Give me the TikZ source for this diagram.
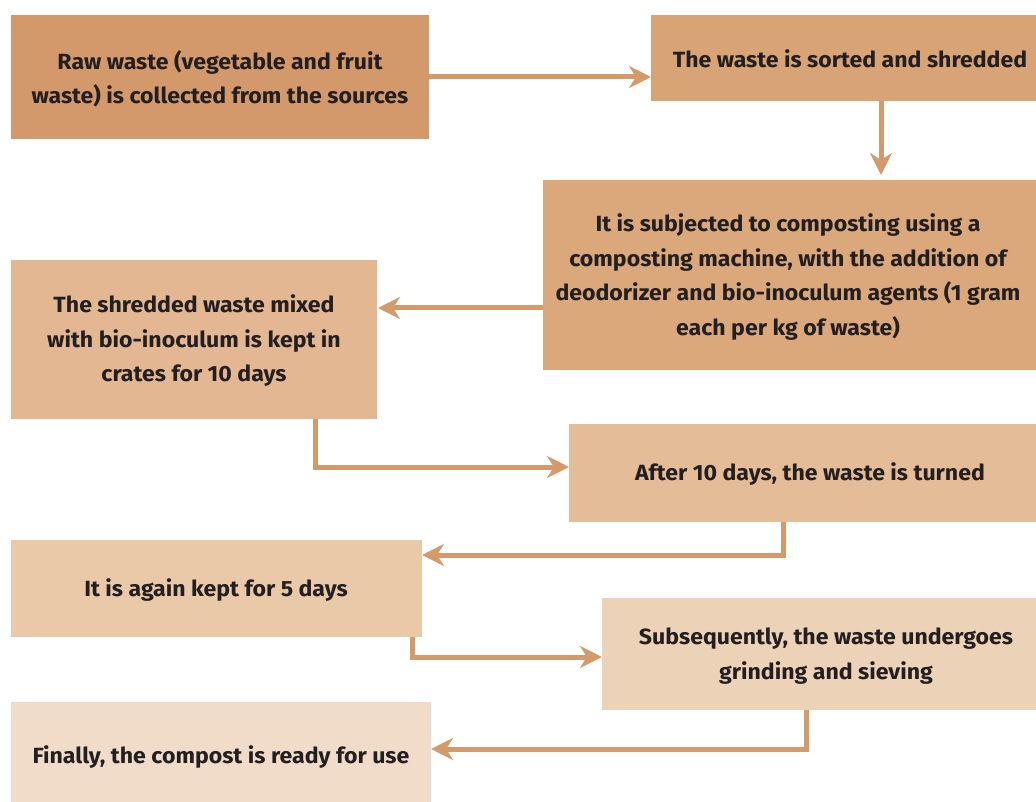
\documentclass[tikz,border=0pt]{standalone}
\usepackage{fontspec}
\setmainfont{Fira Sans}[FakeStretch=1.05]
\usetikzlibrary{arrows.meta}
\definecolor{c1}{HTML}{D3996A}
\definecolor{c2}{HTML}{D8A475}
\definecolor{c3}{HTML}{DAA87B}
\definecolor{c4}{HTML}{E2B791}
\definecolor{c5}{HTML}{E4BC98}
\definecolor{c6}{HTML}{E9C9A8}
\definecolor{c7}{HTML}{ECD2B6}
\definecolor{c8}{HTML}{F0DCC8}
\definecolor{arr}{HTML}{D49A6A}
\definecolor{txt}{HTML}{231F20}
\tikzset{
  box/.style={inner sep=0pt, text=txt, font=\fontsize{22}{34.5}\selectfont\bfseries, align=center},
  conn/.style={draw=arr, line width=5pt, -{Stealth[length=22pt,width=22pt,inset=7pt]}},
}
\begin{document}
\begin{tikzpicture}[x=1pt,y=-1pt]
\useasboundingbox (0,0) rectangle (1036,802);
\fill[white] (0,0) rectangle (1036,802);
% boxes
\fill[c1] (11,15) rectangle (429,139);
\node[box] (b1) at (220,79) {Raw waste (vegetable and fruit\\waste) is collected from the sources};
\fill[c2] (651,15) rectangle (1036,101);
\node[box] (b2) at (850,59) {The waste is sorted and shredded};
\fill[c3] (543,180) rectangle (1036,370);
\node[box] (b3) at (788,277) {It is subjected to composting using a\\composting machine, with the addition of\\deodorizer and bio-inoculum agents (1 gram\\each per kg of waste)};
\fill[c4] (11,260) rectangle (377,419);
\node[box] (b4) at (194,341) {The shredded waste mixed\\with bio-inoculum is kept in\\crates for 10 days};
\fill[c5] (569,424) rectangle (1036,522);
\node[box] (b5) at (810,474) {After 10 days, the waste is turned};
\fill[c6] (11,540) rectangle (422,637);
\node[box] (b6) at (216,590) {It is again kept for 5 days};
\fill[c7] (602,598) rectangle (1036,710);
\node[box] (b7) at (826,656) {Subsequently, the waste undergoes\\grinding and sieving};
\fill[c8] (11,702) rectangle (431,802);
\node[box] (b8) at (221,757) {Finally, the compost is ready for use};
% anchors
\coordinate (p1s) at (429,77); \coordinate (p1e) at (651,77);
\coordinate (p2s) at (881,101); \coordinate (p2e) at (881,175);
\coordinate (p3s) at (543,308); \coordinate (p3e) at (378,308);
\coordinate (p4s) at (315,419); \coordinate (p4e) at (569,467);
\coordinate (p5s) at (783,522); \coordinate (p5e) at (422,555);
\coordinate (p6s) at (412,637); \coordinate (p6e) at (602,657);
\coordinate (p7s) at (806,710); \coordinate (p7e) at (431,749);
\draw[conn] (p1s) -- (p1e);
\draw[conn] (p2s) -- (p2e);
\draw[conn] (p3s) -- (p3e);
\draw[conn] (p4s) |- (p4e);
\draw[conn] (p5s) |- (p5e);
\draw[conn] (p6s) |- (p6e);
\draw[conn] (p7s) |- (p7e);
\end{tikzpicture}
\end{document}
